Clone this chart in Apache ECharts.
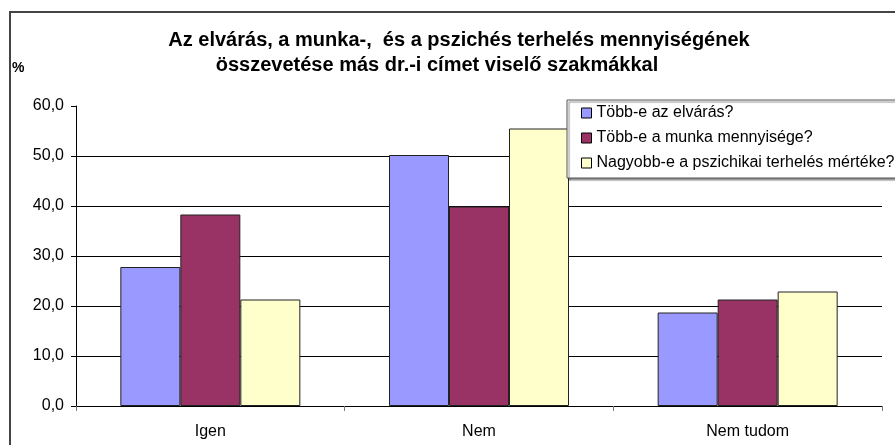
<!DOCTYPE html>
<html>
<head>
<meta charset="utf-8">
<script src="https://cdn.jsdelivr.net/npm/echarts@6/dist/echarts.min.js"></script>
<style>
  html, body { margin: 0; padding: 0; background: #fff; }
  #chart { width: 895px; height: 445px; }
</style>
</head>
<body>
<div id="chart"></div>
<script>
// kategóriák és sorozatok (értékek)
const categories = ["Igen", "Nem", "Nem tudom"];
const seriesNames = [
  "Több-e az elvárás?",
  "Több-e a munka mennyisége?",
  "Nagyobb-e a pszichikai terhelés mértéke?",
];
const elvaras = [27.8, 50.2, 18.7];
const munka = [38.3, 39.9, 21.3];
const pszichikai = [21.3, 55.5, 22.9];
const yTicks = [0, 10, 20, 30, 40, 50, 60];
const titleLines = [
  "Az elvárás, a munka-,  és a pszichés terhelés mennyiségének",
  "összevetése más dr.-i címet viselő szakmákkal",
];

const colors = ["#9999FF", "#993366", "#FFFFCC"];
const font = "Liberation Sans, Arial, sans-serif";

const chart = echarts.init(document.getElementById("chart"));

const makeBar = (name, data, i) => ({
  name: name,
  type: "bar",
  data: data,
  barWidth: 60,
  barGap: "0%",
  itemStyle: {
    color: colors[i],
    borderColor: "#222",
    borderWidth: 1,
  },
});

const option = {
  backgroundColor: "#fff",
  animation: false,
  graphic: [
    {
      type: "rect",
      shape: { x: 10, y: 12, width: 900, height: 450 },
      style: { fill: "none", stroke: "#444", lineWidth: 2 },
      silent: true,
    },
    {
      type: "text",
      x: 459,
      y: 40,
      style: {
        text: titleLines[0],
        font: "bold 20px " + font,
        fill: "#000",
        textAlign: "center",
        textVerticalAlign: "middle",
      },
    },
    {
      type: "text",
      x: 437,
      y: 65,
      style: {
        text: titleLines[1],
        font: "bold 20px " + font,
        fill: "#000",
        textAlign: "center",
        textVerticalAlign: "middle",
      },
    },
    {
      type: "text",
      x: 12,
      y: 68,
      style: {
        text: "%",
        font: "bold 14px " + font,
        fill: "#000",
        textVerticalAlign: "middle",
      },
    },
  ],
  grid: {
    left: 76,
    right: 13,
    top: 106,
    bottom: 39,
    containLabel: false,
  },
  legend: {
    orient: "vertical",
    left: 567,
    top: 100,
    padding: [5, 12, 7, 14],
    itemGap: 9,
    itemWidth: 10,
    itemHeight: 10,
    icon: "rect",
    backgroundColor: "#fff",
    borderColor: "#555",
    borderWidth: 1,
    shadowColor: "rgba(0,0,0,0.45)",
    shadowOffsetX: 2,
    shadowOffsetY: 2,
    shadowBlur: 1,
    itemStyle: { borderColor: "#000", borderWidth: 1 },
    textStyle: { fontFamily: font, fontSize: 16, color: "#000" },
    data: seriesNames,
  },
  xAxis: {
    type: "category",
    data: categories,
    boundaryGap: true,
    axisLine: { show: true, lineStyle: { color: "#000", width: 1 } },
    axisTick: {
      show: true,
      length: 5,
      alignWithLabel: false,
      lineStyle: { color: "#777" },
    },
    axisLabel: {
      fontFamily: font,
      fontSize: 16,
      color: "#000",
      margin: 18,
    },
    splitLine: { show: false },
  },
  yAxis: {
    type: "value",
    min: yTicks[0],
    max: yTicks[yTicks.length - 1],
    interval: 10,
    axisLine: { show: true, lineStyle: { color: "#000", width: 1 } },
    axisTick: { show: true, length: 5, lineStyle: { color: "#000" } },
    axisLabel: {
      fontFamily: font,
      fontSize: 16,
      color: "#000",
      margin: 12,
      formatter: (v) => v.toFixed(1).replace(".", ","),
    },
    splitLine: {
      show: true,
      showMinLine: false,
      showMaxLine: false,
      lineStyle: { color: "#000", width: 1 },
    },
  },
  series: [
    makeBar(seriesNames[0], elvaras, 0),
    makeBar(seriesNames[1], munka, 1),
    makeBar(seriesNames[2], pszichikai, 2),
  ],
};

chart.setOption(option);
</script>
</body>
</html>
